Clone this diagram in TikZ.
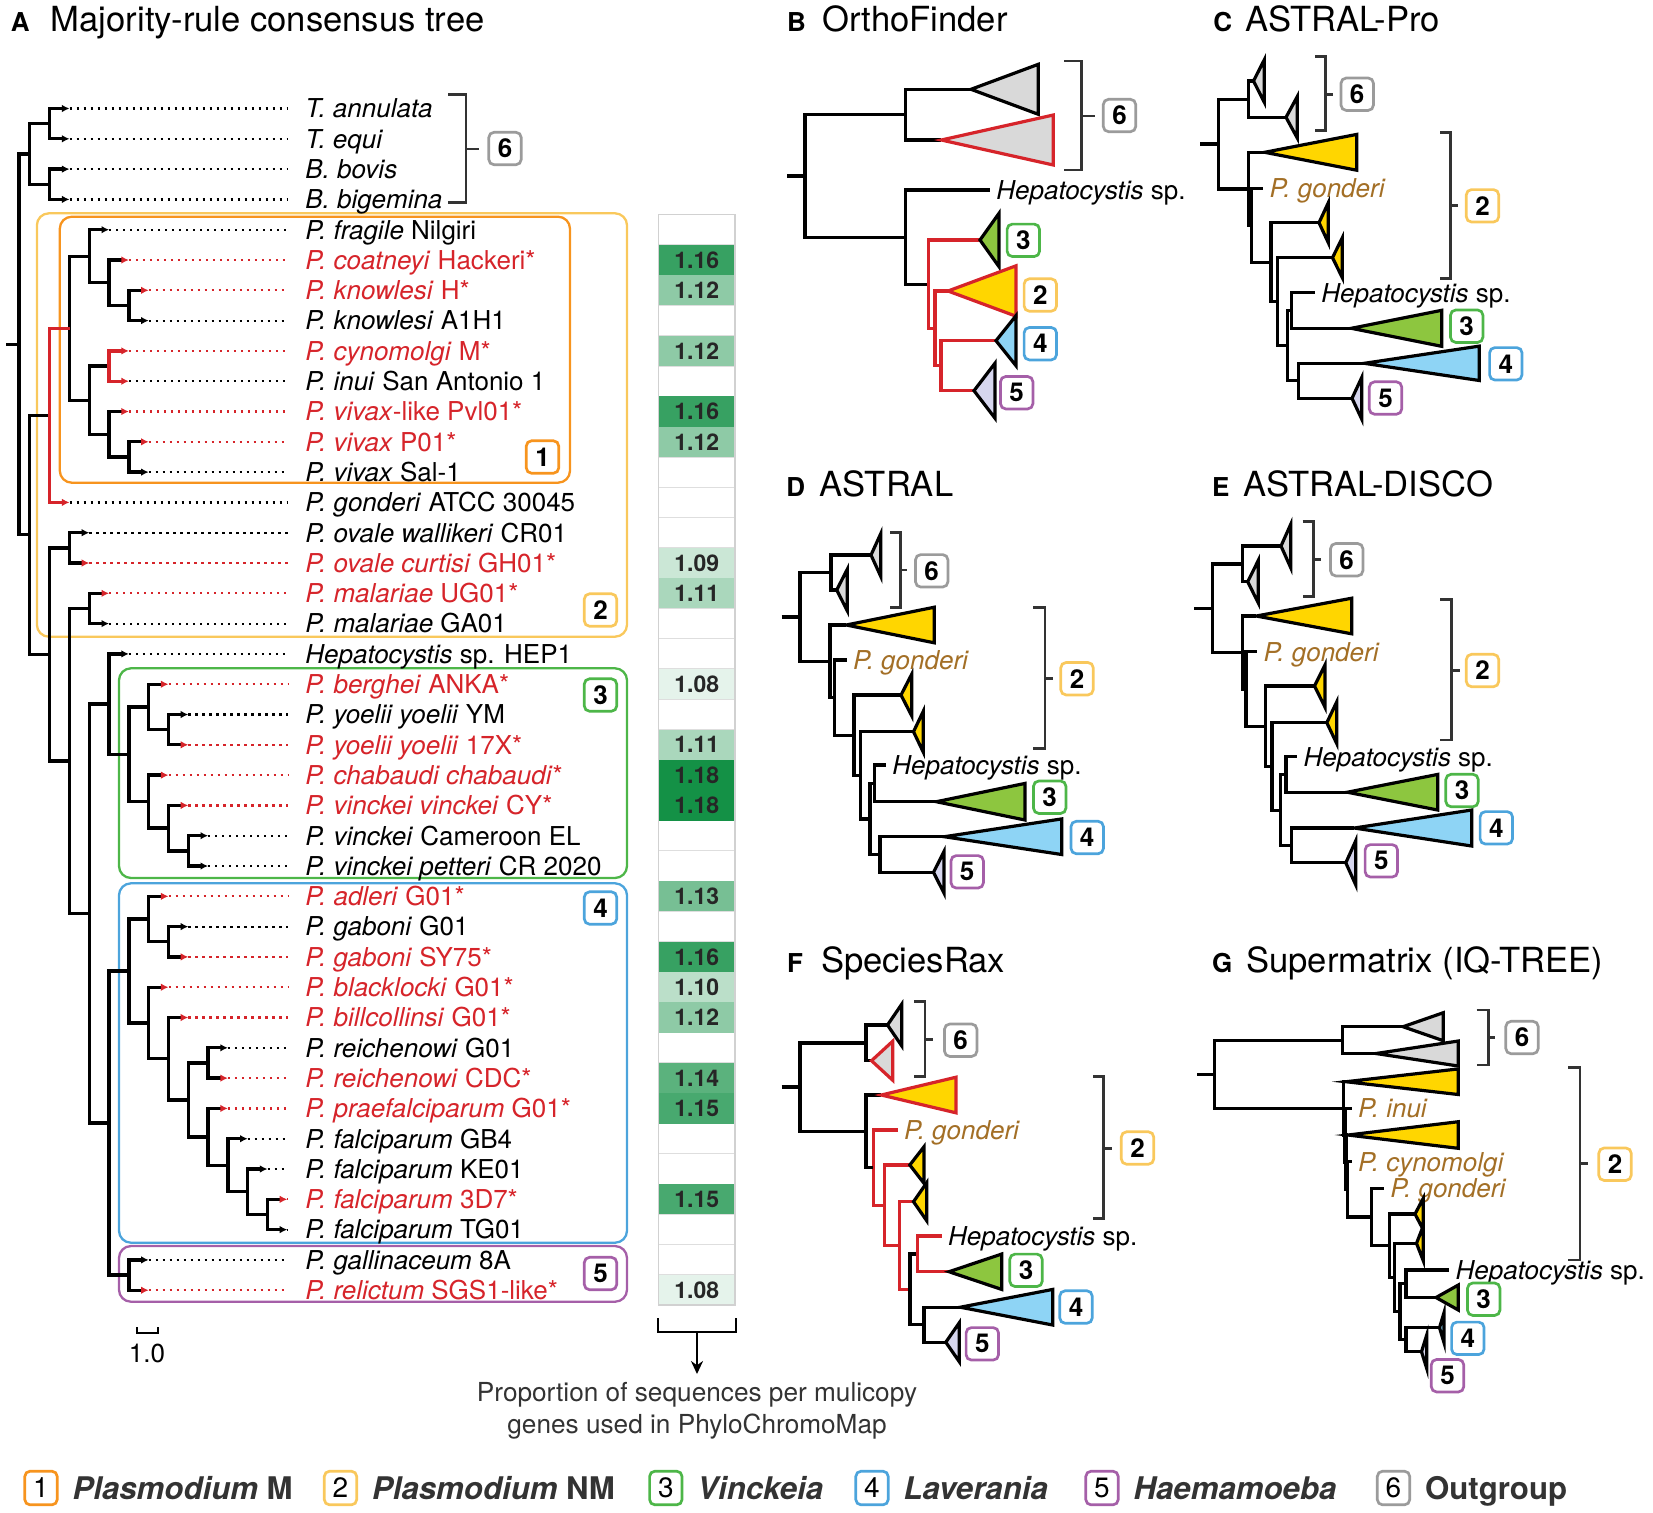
\documentclass[tikz,border=0pt]{standalone}
\usepackage{fontspec}
\setmainfont{TeX Gyre Heros}
\usetikzlibrary{arrows.meta,positioning}

\definecolor{redT}{RGB}{214,36,42}
\definecolor{brownG}{RGB}{163,111,38}
\definecolor{orgM}{RGB}{247,148,30}
\definecolor{yelNM}{RGB}{249,200,92}
\definecolor{grnV}{RGB}{77,182,72}
\definecolor{bluL}{RGB}{76,164,220}
\definecolor{purH}{RGB}{165,95,168}
\definecolor{gryO}{RGB}{155,155,155}
\definecolor{gryF}{RGB}{217,217,217}
\definecolor{yelF}{RGB}{255,214,0}
\definecolor{grnF}{RGB}{141,198,63}
\definecolor{bluF}{RGB}{142,212,245}
\definecolor{purF}{RGB}{214,214,238}
\definecolor{heat}{RGB}{20,145,70}
\definecolor{inkK}{RGB}{51,51,51}

% collapsed clade: apex, length, half height
\newcommand{\cladetri}[5][]{\draw[clade,fill=#2,#1] (#3) -- ++(#4,-#5) -- ++(0,{2*#5}) -- cycle;}

\begin{document}
\begin{tikzpicture}[x=0.5pt,y=-0.5pt,
  branch/.style={line width=1.65pt},
  leaf tip/.style={branch,-{Latex[length=3.8pt,width=3.8pt]}},
  red tip/.style={branch,-{Latex[length=3.8pt,width=3.8pt,color=redT]}},
  dots/.style={line width=1.1pt,dash pattern=on 1.1pt off 2.4pt},
  leaf node/.style={anchor=west,inner xsep=8.5pt,inner ysep=0pt,text height=9.3pt,text depth=0pt,font=\fontsize{13}{15}\selectfont},
  sub label/.style={anchor=west,inner xsep=3pt,inner ysep=0pt,text height=9.3pt,text depth=0pt,font=\fontsize{13}{15}\selectfont},
  clade/.style={draw=black,line width=1.6pt},
  bracket/.style={draw=inkK,line width=1.25pt},
  badge/.style={draw=#1,fill=white,line width=1.35pt,rounded corners=2.6pt,minimum size=16.2pt,inner sep=0pt,font=\bfseries\fontsize{13}{13}\selectfont},
  key badge/.style={badge=#1,font=\fontsize{14}{14}\selectfont,minimum height=16.8pt},
  key text/.style={inner sep=0pt,text height=11.2pt,text depth=0pt,text=inkK,font=\bfseries\fontsize{15.6}{18}\selectfont},
  panel title/.style={anchor=base west,inner sep=0pt,font=\fontsize{17.3}{20}\selectfont},
  panel letter/.style={anchor=base west,inner sep=0pt,font=\bfseries\fontsize{13}{15}\selectfont},
  clade box/.style={draw=#1,line width=1.15pt,rounded corners=6pt},
  grid cell/.style={draw=black!13,line width=0.6pt,fill=white},
  heat cell/.style={inner sep=0pt,font=\bfseries\fontsize{11.5}{12}\selectfont,text=black!85},
  note text/.style={anchor=base,inner sep=0pt,text=black!80,font=\fontsize{13.1}{15}\selectfont}]

\useasboundingbox (0,0) rectangle (1653,1512);

% titles
\node[panel letter] (lA) at (10.5,31.5) {A};
\node[panel title] (tA) at (50.5,31.5) {Majority-rule consensus tree};
\node[panel letter] (lB) at (786.7,31.5) {B};
\node[panel title] (tB) at (821.7,31.5) {OrthoFinder};
\node[panel letter] (lC) at (1213,31.5) {C};
\node[panel title] (tC) at (1245,31.5) {ASTRAL-Pro};
\node[panel letter] (lD) at (786,496) {D};
\node[panel title] (tD) at (819.3,496) {ASTRAL};
\node[panel letter] (lE) at (1211.7,496) {E};
\node[panel title] (tE) at (1242.7,496) {ASTRAL-DISCO};
\node[panel letter] (lF) at (786.7,972) {F};
\node[panel title] (tF) at (820.7,972) {SpeciesRax};
\node[panel letter] (lG) at (1211.7,972) {G};
\node[panel title] (tG) at (1246,972) {Supermatrix (IQ-TREE)};

% A: clade boxes
\draw[clade box=yelNM] (36.9,213.3) rectangle (627,636.7);
\draw[clade box=orgM] (59.8,216.7) rectangle (570,482.7);
\draw[clade box=grnV] (119,668.3) rectangle (627,878);
\draw[clade box=bluL] (119,883.3) rectangle (627,1242.7);
\draw[clade box=purH] (119,1246) rectangle (627,1301.7);

% A: tree, one row per leaf
\begin{scope}[shift={(0,108.5)},y=-15.15pt]
  \coordinate (root) at (19,7.79);
  \coordinate (og) at (29.5,1.5);
  \coordinate (ogT) at (49.7,0.5);
  \coordinate (ogB) at (49.7,2.5);
  \coordinate (ing) at (29.5,14.07);
  \coordinate (mg) at (49.7,10.125);
  \coordinate (m) at (69.5,7.25);
  \coordinate (fr) at (89.3,4.875);
  \coordinate (co) at (109.1,5.75);
  \coordinate (kn) at (128.9,6.5);
  \coordinate (cv) at (89.3,9.625);
  \coordinate (cy) at (109.1,8.5);
  \coordinate (vx) at (109.1,10.75);
  \coordinate (vx2) at (128.9,11.5);
  \coordinate (nm) at (49.7,18.02);
  \coordinate (ov) at (69.5,14.5);
  \coordinate (mhv) at (69.5,21.535);
  \coordinate (ma) at (89.3,16.5);
  \coordinate (hvl) at (89.3,26.57);
  \coordinate (hv) at (109.1,19.656);
  \coordinate (vk) at (128.9,21.3125);
  \coordinate (be) at (148.7,19.75);
  \coordinate (yo) at (168.5,20.5);
  \coordinate (ch) at (148.7,22.875);
  \coordinate (vv) at (168.5,23.75);
  \coordinate (vp) at (188.3,24.5);
  \coordinate (lh) at (109.1,33.48);
  \coordinate (lav) at (128.9,28.465);
  \coordinate (ad) at (148.7,26.75);
  \coordinate (ga) at (168.5,27.5);
  \coordinate (bl) at (148.7,30.18);
  \coordinate (bi) at (168.5,31.36);
  \coordinate (pr) at (188.3,32.72);
  \coordinate (re) at (208.1,31.5);
  \coordinate (f1) at (208.1,33.94);
  \coordinate (f2) at (227.9,34.875);
  \coordinate (f3) at (247.7,35.75);
  \coordinate (f4) at (267.5,36.5);
  \coordinate (hae) at (128.9,38.5);
  \foreach \x [count=\i from 0] in {69.5,69.5,69.5,69.5,109.1,128.9,148.7,148.7,128.9,128.9,128.9,148.7,148.7,69.5,89.3,89.3,109.1,109.1,128.9,168.5,188.3,188.3,168.5,188.3,208.1,208.1,168.5,188.3,188.3,168.5,188.3,227.9,227.9,227.9,247.7,267.5,287.3,287.3,148.7,148.7}
    \coordinate (t\i) at (\x,\i);

  \draw[branch] (6.3,7.79) -- (root);
  \draw[branch] (root) |- (og) (root) |- (ing) (og) |- (ogT) (og) |- (ogB)
    (ing) |- (mg) (ing) |- (nm) (m) |- (fr) (m) |- (cv) (fr) |- (co) (co) |- (kn)
    (cv) |- (cy) (cv) |- (vx) (vx) |- (vx2) (nm) |- (ov) (nm) |- (mhv)
    (mhv) |- (ma) (mhv) |- (hvl) (hvl) |- (hv) (hvl) |- (lh) (hv) |- (vk)
    (vk) |- (be) (vk) |- (ch) (be) |- (yo) (ch) |- (vv) (vv) |- (vp)
    (lh) |- (lav) (lh) |- (hae) (lav) |- (ad) (lav) |- (bl) (ad) |- (ga)
    (bl) |- (bi) (bi) |- (pr) (pr) |- (re) (pr) |- (f1) (f1) |- (f2) (f2) |- (f3) (f3) |- (f4);
  \draw[branch,redT] (mg) |- (m);
  \foreach \p/\t in {ogT/0,ogT/1,ogB/2,ogB/3,fr/4,kn/7,vx2/12,ov/14,ma/17,hv/18,yo/20,vp/24,vp/25,ga/27,re/31,f2/34,f3/35,f4/37,hae/38}
    \draw[leaf tip] (\p) |- (t\t);
  \foreach \p/\t in {co/5,kn/6,vx/10,vx2/11,ov/15,ma/16,be/19,yo/21,ch/22,vv/23,ad/26,ga/28,bl/29,bi/30,re/32,f1/33,f4/36,hae/39}
    \draw[red tip] (\p) |- (t\t);
  \draw[leaf tip,redT] (cy) |- (t8);
  \draw[leaf tip,redT] (cy) |- (t9);
  \draw[leaf tip,redT] (mg) |- (t13);

  % leaf labels
  \node[leaf node] (L0) at (288,0) {\textit{T. annulata}};
  \node[leaf node] (L1) at (288,1) {\textit{T. equi}};
  \node[leaf node] (L2) at (288,2) {\textit{B. bovis}};
  \node[leaf node] (L3) at (288,3) {\textit{B. bigemina}};
  \node[leaf node] (L4) at (288,4) {\textit{P. fragile} Nilgiri};
  \node[leaf node,text=redT] (L5) at (288,5) {\textit{P. coatneyi} Hackeri*};
  \node[leaf node,text=redT] (L6) at (288,6) {\textit{P. knowlesi} H*};
  \node[leaf node] (L7) at (288,7) {\textit{P. knowlesi} A1H1};
  \node[leaf node,text=redT] (L8) at (288,8) {\textit{P. cynomolgi} M*};
  \node[leaf node] (L9) at (288,9) {\textit{P. inui} San Antonio 1};
  \node[leaf node,text=redT] (L10) at (288,10) {\textit{P. vivax}-like Pvl01*};
  \node[leaf node,text=redT] (L11) at (288,11) {\textit{P. vivax} P01*};
  \node[leaf node] (L12) at (288,12) {\textit{P. vivax} Sal-1};
  \node[leaf node] (L13) at (288,13) {\textit{P. gonderi} ATCC 30045};
  \node[leaf node] (L14) at (288,14) {\textit{P. ovale wallikeri} CR01};
  \node[leaf node,text=redT] (L15) at (288,15) {\textit{P. ovale curtisi} GH01*};
  \node[leaf node,text=redT] (L16) at (288,16) {\textit{P. malariae} UG01*};
  \node[leaf node] (L17) at (288,17) {\textit{P. malariae} GA01};
  \node[leaf node] (L18) at (288,18) {\textit{Hepatocystis} sp. HEP1};
  \node[leaf node,text=redT] (L19) at (288,19) {\textit{P. berghei} ANKA*};
  \node[leaf node] (L20) at (288,20) {\textit{P. yoelii yoelii} YM};
  \node[leaf node,text=redT] (L21) at (288,21) {\textit{P. yoelii yoelii} 17X*};
  \node[leaf node,text=redT] (L22) at (288,22) {\textit{P. chabaudi chabaudi}*};
  \node[leaf node,text=redT] (L23) at (288,23) {\textit{P. vinckei vinckei} CY*};
  \node[leaf node] (L24) at (288,24) {\textit{P. vinckei} Cameroon EL};
  \node[leaf node] (L25) at (288,25) {\textit{P. vinckei petteri} CR 2020};
  \node[leaf node,text=redT] (L26) at (288,26) {\textit{P. adleri} G01*};
  \node[leaf node] (L27) at (288,27) {\textit{P. gaboni} G01};
  \node[leaf node,text=redT] (L28) at (288,28) {\textit{P. gaboni} SY75*};
  \node[leaf node,text=redT] (L29) at (288,29) {\textit{P. blacklocki} G01*};
  \node[leaf node,text=redT] (L30) at (288,30) {\textit{P. billcollinsi} G01*};
  \node[leaf node] (L31) at (288,31) {\textit{P. reichenowi} G01};
  \node[leaf node,text=redT] (L32) at (288,32) {\textit{P. reichenowi} CDC*};
  \node[leaf node,text=redT] (L33) at (288,33) {\textit{P. praefalciparum} G01*};
  \node[leaf node] (L34) at (288,34) {\textit{P. falciparum} GB4};
  \node[leaf node] (L35) at (288,35) {\textit{P. falciparum} KE01};
  \node[leaf node,text=redT] (L36) at (288,36) {\textit{P. falciparum} 3D7*};
  \node[leaf node] (L37) at (288,37) {\textit{P. falciparum} TG01};
  \node[leaf node] (L38) at (288,38) {\textit{P. gallinaceum} 8A};
  \node[leaf node,text=redT] (L39) at (288,39) {\textit{P. relictum} SGS1-like*};
  \foreach \i in {0,1,2,3,4,7,9,12,13,14,17,18,20,24,25,27,31,34,35,37,38}
    \draw[dots] (t\i) -- (L\i);
  \foreach \i in {5,6,8,10,11,15,16,19,21,22,23,26,28,29,30,32,33,36,39}
    \draw[dots,redT] (t\i) -- (L\i);

  % heat map column
  \foreach \r in {4,...,39}
    \draw[grid cell] (658.5,\r-0.5) rectangle (735,\r+0.5);
  \foreach \r/\v/\p in {5/1.16/85,6/1.12/48,8/1.12/48,10/1.16/85,11/1.12/48,15/1.09/22,16/1.11/36,19/1.08/11,21/1.11/36,22/1.18/100,23/1.18/100,26/1.13/58,28/1.16/85,29/1.10/29,30/1.12/48,32/1.14/70,33/1.15/78,36/1.15/78,39/1.08/11}{
    \fill[heat!\p!white] (658.5,\r-0.5) rectangle (735,\r+0.5);
    \node[heat cell] (h\r) at (696.75,\r) {\v};
  }
  \draw[black!18,line width=0.9pt] (658.5,3.5) rectangle (735,39.5);
\end{scope}

% A: outgroup bracket and badges
\draw[bracket] (448,94.3) -- (466,94.3) -- (466,202.7) -- (448,202.7) (466,149) -- (479,149);
\node[badge=gryO] (a6) at (505,148.5) {6};
\node[badge=orgM] (a1) at (542.5,457) {1};
\node[badge=yelNM] (a2) at (600.5,610) {2};
\node[badge=grnV] (a3) at (600.5,695) {3};
\node[badge=bluL] (a4) at (600.5,908) {4};
\node[badge=purH] (a5) at (600.5,1273.5) {5};

% A: scale bar and note
\draw[line width=1.25pt] (137,1327) -- (137,1333) -- (158,1333) -- (158,1327);
\node[inner sep=0pt,font=\fontsize{13}{15}\selectfont] (sc) at (147,1353) {1.0};
\draw[line width=1.25pt] (658,1318) -- (658,1332) -- (736,1332) -- (736,1318);
\coordinate (hmb) at (697,1332);
\coordinate (hma) at (697,1374);
\draw[line width=1.3pt,-{Stealth[length=6.5pt,width=6pt]}] (hmb) -- (hma);
\node[note text] (n1) at (697,1401.7) {Proportion of sequences per mulicopy};
\node[note text] (n2) at (697,1433.5) {genes used in PhyloChromoMap};

% B: OrthoFinder
\coordinate (bS) at (787.3,176);
\coordinate (bR) at (805,176);
\coordinate (bO) at (905.7,114.7);
\coordinate (bO1) at (971,89.3);
\coordinate (bO2) at (941.3,140);
\coordinate (bI) at (905.7,237.5);
\coordinate (bJ) at (928.3,284.5);
\coordinate (bG) at (980,240);
\coordinate (bK) at (935,328.8);
\coordinate (bY) at (948,291);
\coordinate (bL) at (941,365.7);
\coordinate (bB) at (996,340.7);
\coordinate (bP) at (974,390.7);
\node[sub label] (bH) at (990,190) {\textit{Hepatocystis} sp.};
\draw[branch] (bS) -- (bR) (bR) |- (bO) (bR) |- (bI) (bO) |- (bO1) (bO) |- (bO2) (bI) |- (bH) (bI) |- (bJ);
\draw[branch,redT] (bJ) |- (bG) (bJ) |- (bK) (bK) |- (bY) (bK) |- (bL) (bL) |- (bB) (bL) |- (bP);
\cladetri{gryF}{bO1}{67.3}{25}
\cladetri[draw=redT]{gryF}{bO2}{112}{25}
\cladetri{grnF}{bG}{19}{26.7}
\cladetri[draw=redT]{yelF}{bY}{68}{25.2}
\cladetri{bluF}{bB}{20}{25}
\cladetri{purF}{bP}{21}{27.5}
\draw[bracket] (1064,61) -- (1081.7,61) -- (1081.7,170) -- (1064,170) (1081.7,116) -- (1095,116);
\node[badge=gryO] (b6) at (1119.5,115.5) {6};
\node[badge=grnV] (b3) at (1023.3,240.3) {3};
\node[badge=yelNM] (b2) at (1040.3,295) {2};
\node[badge=bluL] (b4) at (1040.3,343.7) {4};
\node[badge=purH] (b5) at (1016.7,392.7) {5};

% C: ASTRAL-Pro
\coordinate (cS) at (1200,144.1);
\coordinate (cR) at (1218.3,144.1);
\coordinate (cO) at (1248.3,99.2);
\coordinate (cO1) at (1253.5,81);
\coordinate (cO2) at (1286,117.3);
\coordinate (cN1) at (1248.3,189);
\coordinate (cY1) at (1264.7,152.3);
\coordinate (cN2) at (1251.7,225.6);
\node[sub label,text=brownG] (cGo) at (1263.3,188.3) {\textit{P. gonderi}};
\coordinate (cN3) at (1271,262.5);
\coordinate (cY2) at (1319,222.7);
\coordinate (cN4) at (1277.7,301.7);
\coordinate (cY3) at (1332.5,257.7);
\coordinate (cN5) at (1287.3,345.7);
\coordinate (cN6) at (1291.7,310.5);
\node[sub label] (cH) at (1315,292.7) {\textit{Hepatocystis} sp.};
\coordinate (cG) at (1351.3,328.3);
\coordinate (cN7) at (1298.3,380.8);
\coordinate (cB) at (1364.3,363.3);
\coordinate (cP) at (1352,398.3);
\draw[branch] (cS) -- (cR) (cR) |- (cO) (cR) |- (cN1) (cO) |- (cO1) (cO) |- (cO2)
  (cN1) |- (cY1) (cN1) |- (cN2) (cN2) |- (cGo) (cN2) |- (cN3) (cN3) |- (cY2) (cN3) |- (cN4)
  (cN4) |- (cY3) (cN4) |- (cN5) (cN5) |- (cN6) (cN5) |- (cN7) (cN6) |- (cH) (cN6) |- (cG)
  (cN7) |- (cB) (cN7) |- (cP);
\cladetri{gryF}{cO1}{10.8}{21.3}
\cladetri{gryF}{cO2}{11.3}{20.8}
\cladetri{yelF}{cY1}{92}{17.9}
\cladetri{yelF}{cY2}{9.3}{20}
\cladetri{yelF}{cY3}{9.8}{20}
\cladetri{grnF}{cG}{90.4}{18}
\cladetri{bluF}{cB}{115}{17.2}
\cladetri{purF}{cP}{9.7}{20.8}
\draw[bracket] (1315,56.7) -- (1325.7,56.7) -- (1325.7,130.7) -- (1315,130.7) (1325.7,94.3) -- (1332.7,94.3);
\draw[bracket] (1440,132.7) -- (1450.7,132.7) -- (1450.7,278.3) -- (1440,278.3) (1450.7,205.7) -- (1458.3,205.7);
\node[badge=gryO] (c6) at (1357.2,94.2) {6};
\node[badge=yelNM] (c2) at (1482.5,205.8) {2};
\node[badge=grnV] (c3) at (1466.7,326.2) {3};
\node[badge=bluL] (c4) at (1505.8,363.8) {4};
\node[badge=purH] (c5) at (1385.5,398) {5};

% D: ASTRAL
\coordinate (dS) at (781.7,616.9);
\coordinate (dR) at (800,616.9);
\coordinate (dO) at (831,572.5);
\coordinate (dO1) at (871,555);
\coordinate (dO2) at (836.7,590);
\coordinate (dN1) at (830,661.3);
\coordinate (dY1) at (846.3,625);
\coordinate (dN2) at (834.3,697.6);
\node[sub label,text=brownG] (dGo) at (846.7,660) {\textit{P. gonderi}};
\coordinate (dN3) at (854,735.25);
\coordinate (dY2) at (901,695);
\coordinate (dN4) at (860.7,775.5);
\coordinate (dY3) at (913.5,731.7);
\coordinate (dN5) at (870,818.9);
\coordinate (dN6) at (874.3,783.3);
\node[sub label] (dH) at (886,765) {\textit{Hepatocystis} sp.};
\coordinate (dG) at (936.3,801.7);
\coordinate (dN7) at (880,854.5);
\coordinate (dB) at (944.3,836.7);
\coordinate (dP) at (933.5,872.3);
\draw[branch] (dS) -- (dR) (dR) |- (dO) (dR) |- (dN1) (dO) |- (dO1) (dO) |- (dO2)
  (dN1) |- (dY1) (dN1) |- (dN2) (dN2) |- (dGo) (dN2) |- (dN3) (dN3) |- (dY2) (dN3) |- (dN4)
  (dN4) |- (dY3) (dN4) |- (dN5) (dN5) |- (dN6) (dN5) |- (dN7) (dN6) |- (dH) (dN6) |- (dG)
  (dN7) |- (dB) (dN7) |- (dP);
\cladetri{gryF}{dO1}{9.7}{21.3}
\cladetri{gryF}{dO2}{10.6}{20.8}
\cladetri{yelF}{dY1}{88}{17.8}
\cladetri{yelF}{dY2}{10.7}{20.8}
\cladetri{yelF}{dY3}{9.8}{20.5}
\cladetri{grnF}{dG}{88.7}{18.3}
\cladetri{bluF}{dB}{117.4}{17.8}
\cladetri{purF}{dP}{10.5}{20.8}
\draw[bracket] (890,532.7) -- (900.7,532.7) -- (900.7,607.7) -- (890,607.7) (900.7,570) -- (907.3,570);
\draw[bracket] (1033.3,607.7) -- (1045,607.7) -- (1045,748.3) -- (1033.3,748.3) (1045,678.3) -- (1052.7,678.3);
\node[badge=gryO] (d6) at (931.7,570.8) {6};
\node[badge=yelNM] (d2) at (1077,678.7) {2};
\node[badge=grnV] (d3) at (1049.7,797.2) {3};
\node[badge=bluL] (d4) at (1087.2,837.5) {4};
\node[badge=purH] (d5) at (967.2,871.8) {5};

% E: ASTRAL-DISCO
\coordinate (eS) at (1194,608.2);
\coordinate (eR) at (1212.3,608.2);
\coordinate (eO) at (1242.7,563.85);
\coordinate (eO1) at (1281,546);
\coordinate (eO2) at (1247.7,581.7);
\coordinate (eN1) at (1242.7,652.55);
\coordinate (eY1) at (1256.3,616);
\coordinate (eN2) at (1246,689.1);
\node[sub label,text=brownG] (eGo) at (1257.3,651.7) {\textit{P. gonderi}};
\coordinate (eN3) at (1265.7,726.3);
\coordinate (eY2) at (1314.5,686);
\coordinate (eN4) at (1272,766.6);
\coordinate (eY3) at (1326.8,722.7);
\coordinate (eN5) at (1280.7,810.5);
\coordinate (eN6) at (1286,774.4);
\node[sub label] (eH) at (1297.3,756.7) {\textit{Hepatocystis} sp.};
\coordinate (eG) at (1347.3,792.2);
\coordinate (eN7) at (1291.7,845.4);
\coordinate (eB) at (1354.3,828);
\coordinate (eP) at (1345.8,862.8);
\draw[branch] (eS) -- (eR) (eR) |- (eO) (eR) |- (eN1) (eO) |- (eO1) (eO) |- (eO2)
  (eN1) |- (eY1) (eN1) |- (eN2) (eN2) |- (eGo) (eN2) |- (eN3) (eN3) |- (eY2) (eN3) |- (eN4)
  (eN4) |- (eY3) (eN4) |- (eN5) (eN5) |- (eN6) (eN5) |- (eN7) (eN6) |- (eH) (eN6) |- (eG)
  (eN7) |- (eB) (eN7) |- (eP);
\cladetri{gryF}{eO1}{9.7}{21.7}
\cladetri{gryF}{eO2}{10.6}{21.3}
\cladetri{yelF}{eY1}{95.4}{17.8}
\cladetri{yelF}{eY2}{10.5}{21.2}
\cladetri{yelF}{eY3}{9.9}{20.8}
\cladetri{grnF}{eG}{90.4}{17.8}
\cladetri{bluF}{eB}{117.4}{18}
\cladetri{purF}{eP}{9.9}{22}
\draw[bracket] (1302.7,521.7) -- (1313.3,521.7) -- (1313.3,596.7) -- (1302.7,596.7) (1313.3,559.3) -- (1320.7,559.3);
\draw[bracket] (1440,599.3) -- (1451.7,599.3) -- (1451.7,740) -- (1440,740) (1451.7,670.7) -- (1460,670.7);
\node[badge=gryO] (e6) at (1346.7,559.7) {6};
\node[badge=yelNM] (e2) at (1482.5,670.5) {2};
\node[badge=grnV] (e3) at (1462,790.5) {3};
\node[badge=bluL] (e4) at (1496.3,827.8) {4};
\node[badge=purH] (e5) at (1381.3,860.8) {5};

% F: SpeciesRax
\coordinate (fS) at (781.7,1087);
\coordinate (fR) at (800,1087);
\coordinate (fO) at (866,1042.85);
\coordinate (fO1) at (887.5,1025);
\coordinate (fO2) at (871.5,1060.7);
\coordinate (fN1) at (866,1131.25);
\coordinate (fY1) at (881.3,1095);
\coordinate (fN2) at (873.3,1167.6);
\node[sub label,text=brownG] (fGo) at (897.7,1130) {\textit{P. gonderi}};
\coordinate (fN3) at (884.3,1205.25);
\coordinate (fY2) at (909.8,1165);
\coordinate (fN4) at (899.3,1245.5);
\coordinate (fY3) at (913.5,1201.7);
\coordinate (fN5) at (910,1289.3);
\coordinate (fN6) at (917.7,1253.85);
\node[sub label] (fH) at (941.7,1236) {\textit{Hepatocystis} sp.};
\coordinate (fG) at (949,1271.7);
\coordinate (fN7) at (924,1324.7);
\coordinate (fB) at (960.3,1307.2);
\coordinate (fP) at (945.8,1342.2);
\draw[branch,redT] (fN2) |- (fGo) (fN2) |- (fN3) (fN3) |- (fY2) (fN3) |- (fN4) (fN4) |- (fY3) (fN4) |- (fN5);
\draw[branch] (fS) -- (fR) (fR) |- (fO) (fR) |- (fN1) (fO) |- (fO1) (fO) |- (fO2)
  (fN1) |- (fY1) (fN1) |- (fN2) (fN5) |- (fN6) (fN5) |- (fN7) (fN7) |- (fB) (fN7) |- (fP);
\draw[branch,redT] (fN6) |- (fH) (fN6) |- (fG);
\cladetri{gryF}{fO1}{14.2}{20.8}
\cladetri[draw=redT]{gryF}{fO2}{21.2}{19.5}
\cladetri[draw=redT]{yelF}{fY1}{74.7}{17.8}
\cladetri{yelF}{fY2}{14.2}{18.3}
\cladetri{yelF}{fY3}{13.2}{19}
\cladetri{grnF}{fG}{52.7}{17.7}
\cladetri{bluF}{fB}{92.4}{17.8}
\cladetri{purF}{fP}{13.5}{19.5}
\draw[bracket] (914.3,1001.7) -- (925,1001.7) -- (925,1076.7) -- (914.3,1076.7) (925,1039.3) -- (933.3,1039.3);
\draw[bracket] (1093.3,1076.7) -- (1103.3,1076.7) -- (1103.3,1218.3) -- (1093.3,1218.3) (1103.3,1148.3) -- (1111.7,1148.3);
\node[badge=gryO] (f6) at (960.7,1040.2) {6};
\node[badge=yelNM] (f2) at (1137.5,1148) {2};
\node[badge=grnV] (f3) at (1026,1270.3) {3};
\node[badge=bluL] (f4) at (1076,1307) {4};
\node[badge=purH] (f5) at (982.3,1343.8) {5};

% G: Supermatrix (IQ-TREE)
\coordinate (gS) at (1197.3,1074.35);
\coordinate (gR) at (1214.3,1074.35);
\coordinate (gO) at (1342.7,1040.2);
\coordinate (gO1) at (1403,1026.7);
\coordinate (gO2) at (1376,1053.5);
\coordinate (gN1) at (1343.3,1108.5);
\coordinate (gY1) at (1346,1081.7);
\coordinate (gN2) at (1345,1135.25);
\node[sub label,text=brownG] (gIn) at (1351.7,1108.3) {\textit{P. inui}};
\coordinate (gN3) at (1346,1162.2);
\coordinate (gY2) at (1348,1135);
\coordinate (gN4) at (1347.3,1189.35);
\node[sub label,text=brownG] (gCy) at (1351.7,1161.7) {\textit{P. cynomolgi}};
\coordinate (gN5) at (1371.7,1217);
\node[sub label,text=brownG] (gGo) at (1384,1188.3) {\textit{P. gonderi}};
\coordinate (gN6) at (1389.3,1245.75);
\coordinate (gY3) at (1415,1214);
\coordinate (gN7) at (1394.3,1277.5);
\coordinate (gY4) at (1416.5,1243.3);
\coordinate (gN8) at (1400,1311.7);
\coordinate (gN9) at (1406,1283.75);
\node[sub label] (gH) at (1449.3,1270) {\textit{Hepatocystis} sp.};
\coordinate (gG) at (1436,1297.5);
\coordinate (gN10) at (1406,1339.7);
\coordinate (gB) at (1439.5,1327.7);
\coordinate (gP) at (1421.5,1351.7);
\draw[branch] (gS) -- (gR) (gR) |- (gO) (gR) |- (gN1) (gO) |- (gO1) (gO) |- (gO2)
  (gN1) |- (gY1) (gN1) |- (gN2) (gN2) |- (gIn) (gN2) |- (gN3) (gN3) |- (gY2) (gN3) |- (gN4)
  (gN4) |- (gCy) (gN4) |- (gN5) (gN5) |- (gGo) (gN5) |- (gN6) (gN6) |- (gY3) (gN6) |- (gN7)
  (gN7) |- (gY4) (gN7) |- (gN8) (gN8) |- (gN9) (gN8) |- (gN10) (gN9) |- (gH) (gN9) |- (gG)
  (gN10) |- (gB) (gN10) |- (gP);
\cladetri{gryF}{gO1}{40.3}{14}
\cladetri{gryF}{gO2}{82.3}{12.5}
\cladetri{yelF}{gY1}{112.3}{12.8}
\cladetri{yelF}{gY2}{110.3}{13.3}
\cladetri{yelF}{gY3}{8.3}{15.8}
\cladetri{yelF}{gY4}{6.8}{17.5}
\cladetri{grnF}{gG}{22.3}{12.5}
\cladetri{bluF}{gB}{4.5}{15}
\cladetri{purF}{gP}{5.2}{16.7}
\draw[bracket] (1476.7,1010) -- (1488.3,1010) -- (1488.3,1065) -- (1476.7,1065) (1488.3,1037.3) -- (1495,1037.3);
\draw[bracket] (1568.3,1067.3) -- (1580,1067.3) -- (1580,1260) -- (1568.3,1260) (1580,1163.3) -- (1588.3,1163.3);
\node[badge=gryO] (g6) at (1522,1037.5) {6};
\node[badge=yelNM] (g2) at (1615,1164.2) {2};
\node[badge=grnV] (g3) at (1483.7,1299.2) {3};
\node[badge=bluL] (g4) at (1467.8,1338.3) {4};
\node[badge=purH] (g5) at (1447.5,1375.7) {5};

% legend
\node[key badge=orgM] (k1) at (41,1488) {1};
\node[key text,right=6.8pt of k1] (k1t) {\textit{Plasmodium} M};
\node[key badge=yelNM] (k2) at (340.5,1488) {2};
\node[key text,right=6.8pt of k2] (k2t) {\textit{Plasmodium} NM};
\node[key badge=grnV] (k3) at (665.8,1488) {3};
\node[key text,right=6.8pt of k3] (k3t) {\textit{Vinckeia}};
\node[key badge=bluL] (k4) at (872,1488) {4};
\node[key text,right=6.8pt of k4] (k4t) {\textit{Laverania}};
\node[key badge=purH] (k5) at (1102,1488) {5};
\node[key text,right=6.8pt of k5] (k5t) {\textit{Haemamoeba}};
\node[key badge=gryO] (k6) at (1393.5,1488) {6};
\node[key text,right=6.8pt of k6] (k6t) {Outgroup};
\end{tikzpicture}
\end{document}
